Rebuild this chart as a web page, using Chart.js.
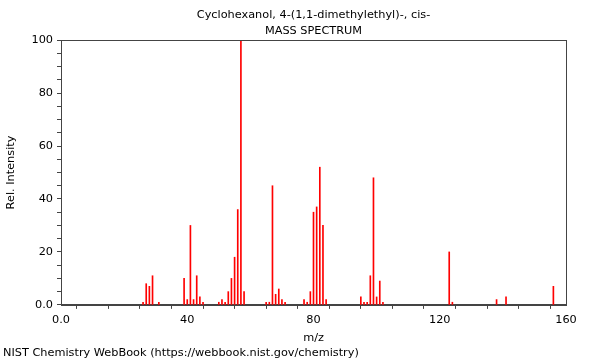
<!DOCTYPE html>
<html>
<head>
<meta charset="utf-8">
<script src="https://cdn.jsdelivr.net/npm/chart.js@4"></script>
<style>
  body { margin: 0; background: #fff; }
  #wrap { width: 600px; height: 360px; }
</style>
</head>
<body>
<div id="wrap"><canvas id="spectrum"></canvas></div>
<script>
// m/z values and relative intensities
const mzValues = [26, 27, 28, 29, 31, 39, 40, 41, 42, 43, 44, 45, 50, 51, 52, 53, 54, 55, 56, 57, 58,
  65, 66, 67, 68, 69, 70, 71, 77, 78, 79, 80, 81, 82, 83, 84, 95, 96, 97, 98, 99, 100, 101, 102,
  123, 124, 138, 141, 156];
const intensities = [1, 8, 7, 11, 1, 10, 2, 30, 2, 11, 3, 1, 1, 2, 1, 5, 10, 18, 36, 100, 5,
  1, 1, 45, 4, 6, 2, 1, 2, 1, 5, 35, 37, 52, 30, 2, 3, 1, 1, 11, 48, 3, 9, 1,
  20, 1, 2, 3, 7];
const xLabelTicks = [0, 40, 80, 120, 160];
const yLabelTicks = [0, 20, 40, 60, 80, 100];

const font = { family: 'DejaVu Sans', size: 11.3 };
const axisColor = '#444';

// box around the plot area + footer credit line
const framePlugin = {
  id: 'frame',
  afterDraw(chart) {
    const { ctx, chartArea: a } = chart;
    ctx.save();
    ctx.strokeStyle = axisColor;
    ctx.lineWidth = 1;
    ctx.strokeRect(Math.round(a.left) + 0.5, Math.round(a.top) + 0.5,
      Math.round(a.right - a.left), Math.round(a.bottom - a.top));
    ctx.fillStyle = '#000';
    ctx.font = '11.3px "DejaVu Sans"';
    ctx.textBaseline = 'middle';
    ctx.textAlign = 'left';
    ctx.fillText('NIST Chemistry WebBook (https://webbook.nist.gov/chemistry)', 3, 353);
    ctx.restore();
  }
};

const tickLabel = (list) => (v) => {
  if (v === 0) return '0.0';
  return list.includes(v) ? String(v) : '';
};

new Chart(document.getElementById('spectrum'), {
  type: 'bar',
  data: {
    datasets: [{
      data: mzValues.map((m, i) => ({ x: m, y: intensities[i] })),
      backgroundColor: '#ff0000',
      barThickness: 1,
      grouped: false,
    }],
  },
  options: {
    responsive: true,
    maintainAspectRatio: false,
    animation: false,
    layout: { padding: { left: 3, right: 34, top: 0, bottom: 15 } },
    plugins: {
      legend: { display: false },
      tooltip: { enabled: false },
      title: {
        display: true,
        text: 'Cyclohexanol, 4-(1,1-dimethylethyl)-, cis-',
        fullSize: false,
        color: '#000',
        font: { ...font, weight: 'normal' },
        padding: { top: 8, bottom: 2.5 },
      },
      subtitle: {
        display: true,
        text: 'MASS SPECTRUM',
        fullSize: false,
        color: '#000',
        font: { ...font, weight: 'normal' },
        padding: { top: 0, bottom: 2.5 },
      },
    },
    scales: {
      x: {
        type: 'linear',
        min: 0,
        max: 160,
        offset: false,
        grid: { drawOnChartArea: false, drawTicks: true, tickLength: 4, color: axisColor },
        border: { display: true, color: axisColor },
        ticks: {
          stepSize: 10,
          autoSkip: false,
          maxRotation: 0,
          padding: 4,
          color: '#000',
          font,
          callback: tickLabel(xLabelTicks),
        },
        title: { display: true, text: 'm/z', color: '#000', font, padding: { top: 1, bottom: 0 } },
      },
      y: {
        min: 0,
        max: 100,
        grid: { drawOnChartArea: false, drawTicks: true, tickLength: 4, color: axisColor },
        border: { display: true, color: axisColor },
        ticks: {
          stepSize: 5,
          autoSkip: false,
          padding: 4,
          color: '#000',
          font,
          callback: tickLabel(yLabelTicks),
        },
        title: { display: true, text: 'Rel. Intensity', color: '#000', font, padding: { top: 1, bottom: 0 } },
        afterFit(scale) { scale.width = 58; },
      },
    },
  },
  plugins: [framePlugin],
});
</script>
</body>
</html>
